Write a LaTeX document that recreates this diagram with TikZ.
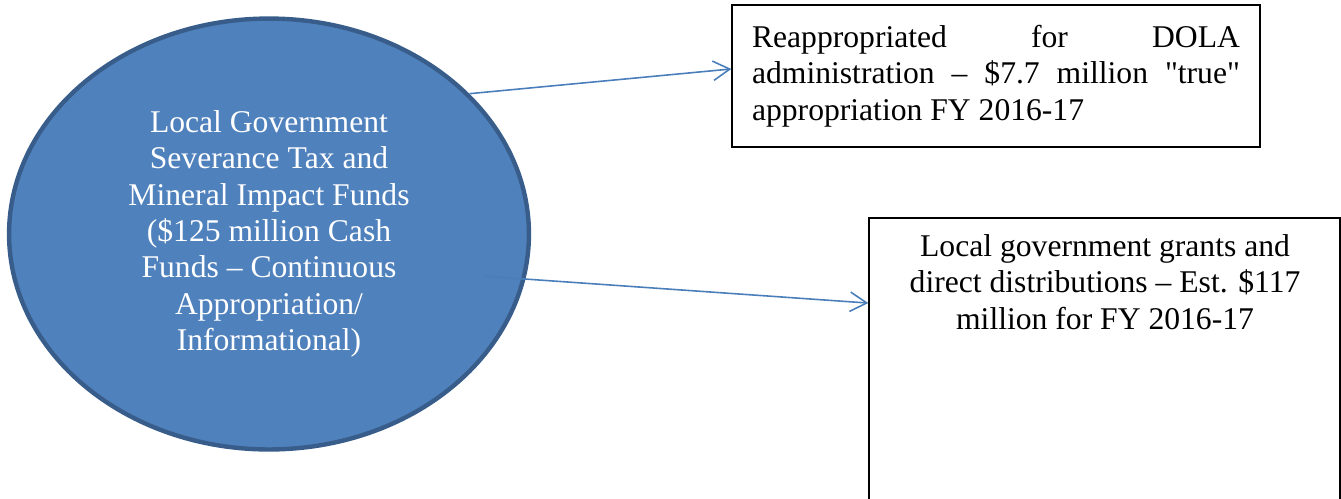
\documentclass[tikz,border=0pt]{standalone}
\usepackage{fontspec}
\setmainfont{Liberation Serif}[Ligatures=TeXOff]
\usetikzlibrary{shapes.geometric,arrows.meta}
\definecolor{fundblue}{HTML}{4F81BD}
\definecolor{funddark}{HTML}{385D8A}
\definecolor{flowblue}{HTML}{4A7EBB}

\begin{document}
\begin{tikzpicture}[x=0.02cm, y=-0.02cm,
    every node/.style={font=\fontsize{18}{20.7}\selectfont},
    fund/.style={ellipse, draw=funddark, line width=2.5pt, fill=fundblue, text=white, minimum width=10.4cm, minimum height=8.62cm, align=center, inner sep=0pt},
    outbox/.style={rectangle, draw, line width=0.8pt, inner sep=0pt},
    flow/.style={-{Straight Barb[length=9.5pt, width=11pt]}, draw=flowblue, line width=0.9pt}
]
\useasboundingbox (0,0) rectangle (1341,499);
\clip (0,0) rectangle (1341,499);

% Fund
\node[fund, yshift=-2pt] (fund) at (269,230.5) {Local Government\\Severance Tax and\\Mineral Impact Funds\\(\$125 million Cash\\Funds – Continuous\\Appropriation/\\Informational)};

% Outflows
\node[outbox, minimum width=10.56cm, minimum height=2.84cm, text width=9.76cm, align=justify] (reapp) at (996,76) {Reappropriated for DOLA\linebreak administration – \$7.7 million "true"\linebreak appropriation FY 2016-17};
\node[outbox, minimum width=9.42cm, minimum height=6.04cm] (grantsbox) at (1104.5,369) {};
\node[anchor=north, align=center, inner sep=0pt] (grants) at (1105,234) {Local government grants and\\direct distributions – Est. \$117\\million for FY 2016-17};

% Connections
\draw[flow] (fund.35) -- ([yshift=4pt]reapp.west);
\draw[flow] ([shift={(122.5pt,-24pt)}]fund.center) -- ([yshift=-48.8pt]grantsbox.north west);
\end{tikzpicture}
\end{document}
